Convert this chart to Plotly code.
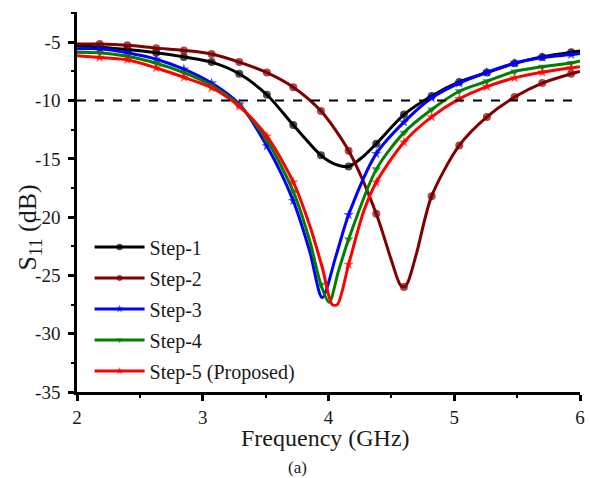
import plotly.graph_objects as go

# ---------------- data ----------------
MARK_F = [2.18, 2.40, 2.63, 2.85, 3.07, 3.29, 3.51, 3.72, 3.94, 4.16,
          4.38, 4.60, 4.82, 5.04, 5.26, 5.48, 5.70, 5.93]

step1_f = [2.00, 2.18, 2.40, 2.63, 2.85, 3.07, 3.29, 3.51, 3.72, 3.94, 4.05,
           4.16, 4.27, 4.38, 4.60, 4.82, 5.04, 5.26, 5.48, 5.70, 5.93, 6.00]
step1_s = [-5.30, -5.42, -5.62, -5.90, -6.25, -6.70, -7.70, -9.50, -12.10, -14.70, -15.45,
           -15.65, -14.85, -13.70, -11.20, -9.60, -8.40, -7.60, -6.80, -6.25, -5.85, -5.75]

step2_f = [2.00, 2.18, 2.40, 2.63, 2.85, 3.07, 3.29, 3.51, 3.72, 3.94, 4.16,
           4.38, 4.50, 4.57, 4.60, 4.63, 4.70, 4.82, 5.04, 5.26, 5.48, 5.70, 5.93, 6.00]
step2_s = [-5.15, -5.15, -5.26, -5.50, -5.70, -6.00, -6.70, -7.60, -8.85, -10.90, -14.30,
           -19.70, -23.70, -25.80, -26.00, -25.60, -23.10, -18.20, -13.85, -11.40, -9.70, -8.50, -7.70, -7.50]

step3_f = [2.00, 2.18, 2.40, 2.63, 2.85, 3.07, 3.29, 3.51, 3.72, 3.85, 3.95,
           4.06, 4.16, 4.38, 4.60, 4.82, 5.04, 5.26, 5.48, 5.70, 5.93, 6.00]
step3_s = [-5.55, -5.55, -5.90, -6.45, -7.30, -8.50, -10.30, -13.90, -18.60, -22.90, -26.90,
           -23.30, -19.80, -14.55, -11.85, -9.77, -8.50, -7.57, -6.80, -6.30, -6.05, -5.95]

step4_f = [2.00, 2.18, 2.40, 2.63, 2.85, 3.07, 3.29, 3.51, 3.72, 3.85, 3.94,
           4.005, 4.08, 4.16, 4.38, 4.60, 4.82, 5.04, 5.26, 5.48, 5.70, 5.93, 6.00]
step4_s = [-5.85, -5.90, -6.20, -6.80, -7.60, -8.70, -10.40, -13.40, -17.80, -22.00, -25.80,
           -27.30, -24.60, -21.90, -15.90, -12.75, -10.77, -9.20, -8.34, -7.50, -7.10, -6.77, -6.60]

step5_f = [2.00, 2.18, 2.40, 2.63, 2.85, 3.07, 3.29, 3.51, 3.72, 3.85, 3.95,
           4.03, 4.07, 4.16, 4.28, 4.38, 4.60, 4.82, 5.04, 5.26, 5.48, 5.70, 5.93, 6.00]
step5_s = [-6.15, -6.30, -6.50, -7.20, -8.00, -8.90, -10.50, -13.05, -17.00, -20.70, -24.30,
           -27.50, -27.50, -24.05, -19.50, -17.00, -13.57, -11.40, -9.85, -8.80, -8.05, -7.57, -7.20, -7.10]

THRESHOLD = -10
X_TICKS = [2, 3, 4, 5, 6]
X_TICK_TEXT = ["2", "3", "4", "5", "6"]
Y_TICKS = [-35, -30, -25, -20, -15, -10, -5]
Y_TICK_TEXT = ["-35", "-30", "-25", "-20", "-15", "-10", "-5"]

series = [
    ("Step-1", step1_f, step1_s, "#000000", "circle", 8),
    ("Step-2", step2_f, step2_s, "#7f0000", "circle", 8),
    ("Step-3", step3_f, step3_s, "#0000ff", "star", 8),
    ("Step-4", step4_f, step4_s, "#008000", "triangle-down", 8),
    ("Step-5 (Proposed)", step5_f, step5_s, "#ff0000", "star", 8),
]

FONT = "Liberation Serif"
TXT = "#1a1a1a"

fig = go.Figure()
for i, (name, f, s, color, sym, msize) in enumerate(series):
    sizes = [msize if any(abs(v - m) < 0.006 for m in MARK_F) else 0 for v in f]
    fig.add_trace(go.Scatter(
        x=f, y=s, name=name, mode="lines+markers",
        line=dict(color=color, width=3, shape="spline", smoothing=0.8),
        marker=dict(symbol=sym, size=sizes, color=color, line=dict(width=0)),
        legendgroup=f"g{i}",
    ))

fig.add_hline(y=THRESHOLD, line=dict(color="black", width=2, dash="dash"))

fig.update_layout(
    width=590, height=478,
    margin=dict(l=77, r=5, t=12, b=86),
    paper_bgcolor="white", plot_bgcolor="white",
    font=dict(family=FONT, color=TXT, size=19),
    showlegend=True,
    legend=dict(
        x=0.025, y=0.433, xanchor="left", yanchor="top",
        bgcolor="rgba(0,0,0,0)", font=dict(size=20, family=FONT, color=TXT),
        traceorder="grouped", tracegroupgap=2, itemwidth=50,
    ),
    xaxis=dict(
        range=[2, 6], tickmode="array", tickvals=X_TICKS, ticktext=X_TICK_TEXT,
        showgrid=False, zeroline=False,
        showline=True, linecolor="black", linewidth=2.5,
        ticks="outside", ticklen=6, tickwidth=2.5, tickcolor="black",
        tickfont=dict(size=19, family=FONT, color=TXT),
        minor=dict(tickmode="linear", tick0=2, dtick=0.5, ticks="outside", ticklen=3,
                   tickwidth=2, tickcolor="black", showgrid=False),
    ),
    yaxis=dict(
        range=[-35, -2.4], tickmode="array", tickvals=Y_TICKS, ticktext=Y_TICK_TEXT,
        showgrid=False, zeroline=False,
        showline=True, linecolor="black", linewidth=2.5,
        ticks="outside", ticklen=6, tickwidth=2.5, tickcolor="black",
        ticklabelstandoff=4,
        tickfont=dict(size=19, family=FONT, color=TXT),
        minor=dict(tickmode="linear", tick0=-35, dtick=2.5, ticks="outside", ticklen=3,
                   tickwidth=2, tickcolor="black", showgrid=False),
    ),
)
# axis titles (placed as annotations to match the reference positions)
fig.add_annotation(text="Frequency (GHz)", x=(328 - 77) / 508, y=-(438 - 392) / 380,
                   xref="paper", yref="paper", xanchor="center", yanchor="middle",
                   showarrow=False, borderpad=0, font=dict(size=24, family=FONT, color=TXT))
fig.add_annotation(text="S<sub>11</sub> (dB)", x=(29 - 77) / 508, y=(392 - 227) / 380,
                   xref="paper", yref="paper", xanchor="center", yanchor="middle",
                   textangle=-90, showarrow=False, font=dict(size=26, family=FONT, color=TXT))
fig.add_annotation(text="(a)", x=(300 - 77) / 508, y=-(467 - 392) / 380, xref="paper", yref="paper",
                   xanchor="center", yanchor="middle", showarrow=False,
                   font=dict(size=17, family=FONT, color=TXT))

fig.write_html("out.html")
